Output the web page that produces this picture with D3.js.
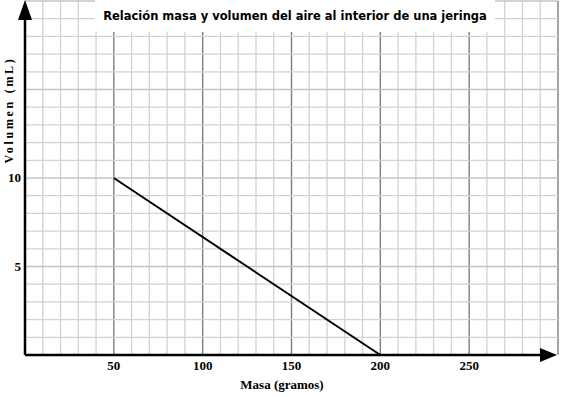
<!DOCTYPE html>
<html>
<head>
<meta charset="utf-8">
<script src="https://d3js.org/d3.v7.min.js"></script>
<style>
  body { margin: 0; background: #fff; }
  text { fill: #000; }
</style>
</head>
<body>
<svg width="563" height="397"></svg>
<script>
// data
var masa = [50, 200];            // gramos
var volumen = [10, 0];           // mL
var xTicks = [50, 100, 150, 200, 250];
var yTicks = [5, 10];
var title = "Relación masa y volumen del aire al interior de una jeringa";

var svg = d3.select("svg");

var x = d3.scaleLinear().domain([0, 300]).range([25, 558]);
var y = d3.scaleLinear().domain([0, 20]).range([355, 1]);

// grid: minor every 10 g / 1 mL, major every 50 g / 5 mL
var grid = svg.append("g");
grid.selectAll("line.vx")
  .data(d3.range(10, 301, 10))
  .enter().append("line")
    .attr("x1", d => x(d)).attr("x2", d => x(d))
    .attr("y1", y(20)).attr("y2", y(0))
    .attr("stroke", d => d % 50 == 0 ? "#7e7e7e" : "#d2d2d2")
    .attr("stroke-width", d => d % 50 == 0 ? 1.4 : 1.3);

grid.selectAll("line.hy")
  .data(d3.range(1, 21, 1))
  .enter().append("line")
    .attr("x1", x(0)).attr("x2", x(300))
    .attr("y1", d => y(d)).attr("y2", d => y(d))
    .attr("stroke", d => d % 5 == 0 ? "#c4c4c4" : "#d2d2d2")
    .attr("stroke-width", 1.3);

// title box
svg.append("rect")
  .attr("x", 95).attr("y", 0)
  .attr("width", 400).attr("height", 32)
  .attr("fill", "#fff");
svg.append("text")
  .attr("x", 295).attr("y", 20)
  .attr("text-anchor", "middle")
  .style("font-family", "'DejaVu Sans', sans-serif")
  .style("font-weight", "bold")
  .style("font-size", "11.5px")
  .text(title);

// the line
var line = d3.line().x((d, i) => x(masa[i])).y((d, i) => y(volumen[i]));
svg.append("path")
  .datum(masa)
  .attr("d", line)
  .attr("fill", "none")
  .attr("stroke", "#000")
  .attr("stroke-width", 2);

// axes with arrows
svg.append("line")
  .attr("x1", x(0)).attr("x2", 542)
  .attr("y1", y(0)).attr("y2", y(0))
  .attr("stroke", "#000").attr("stroke-width", 2.5);
svg.append("path")
  .attr("d", "M540," + (y(0) - 7) + " L557," + y(0) + " L540," + (y(0) + 7) + " Z")
  .attr("fill", "#000");

svg.append("line")
  .attr("x1", x(0)).attr("x2", x(0))
  .attr("y1", y(0)).attr("y2", 18)
  .attr("stroke", "#000").attr("stroke-width", 2.5);
svg.append("path")
  .attr("d", "M" + (x(0) - 7) + ",20 L" + x(0) + ",0 L" + (x(0) + 7) + ",20 Z")
  .attr("fill", "#000");

// tick labels
var labelFont = "'Liberation Serif', 'DejaVu Serif', serif";
svg.selectAll("text.xt")
  .data(xTicks)
  .enter().append("text")
    .attr("x", d => x(d)).attr("y", 370)
    .attr("text-anchor", "middle")
    .style("font-family", labelFont)
    .style("font-weight", "bold")
    .style("font-size", "13px")
    .text(d => d);

svg.selectAll("text.yt")
  .data(yTicks)
  .enter().append("text")
    .attr("x", 21).attr("y", d => y(d) + 4)
    .attr("text-anchor", "end")
    .style("font-family", labelFont)
    .style("font-weight", "bold")
    .style("font-size", "13px")
    .text(d => d);

// axis titles
svg.append("text")
  .attr("x", 282).attr("y", 389)
  .attr("text-anchor", "middle")
  .style("font-family", labelFont)
  .style("font-weight", "bold")
  .style("font-size", "13px")
  .text("Masa (gramos)");

svg.append("text")
  .attr("transform", "translate(13,110) rotate(-90)")
  .attr("text-anchor", "middle")
  .style("font-family", labelFont)
  .style("font-weight", "bold")
  .style("font-size", "12px")
  .style("letter-spacing", "2.7px")
  .text("Volumen (mL)");
</script>
</body>
</html>
